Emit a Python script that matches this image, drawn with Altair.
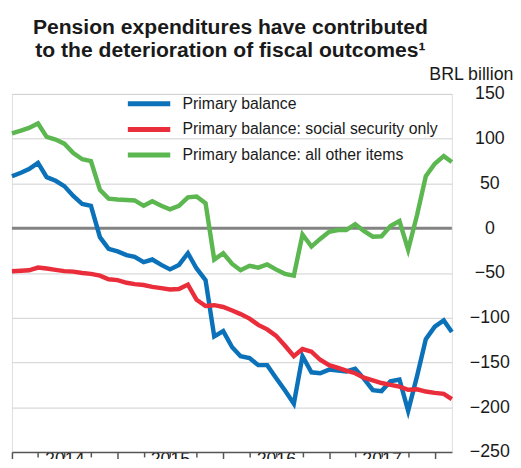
import altair as alt
import pandas as pd

months = pd.date_range("2014-01-01", "2018-03-01", freq="MS")

series_names = [
    "Primary balance",
    "Primary balance: social security only",
    "Primary balance: all other items",
]
series_colors = ["#0b72b9", "#ea2d3a", "#5cb751"]

primary_balance = [58, 62, 66, 73, 57, 53, 47, 36, 27, 25, -10, -23, -26, -30, -32, -38, -35,
                   -41, -46, -41, -28, -45, -58, -121, -115, -133, -143, -145, -153, -153, -167,
                   -181, -196, -143, -161, -162, -158, -159, -160, -157, -168, -181, -182, -171,
                   -169, -204, -165, -124, -110, -103, -116]
social_security = [-48, -47.5, -47, -44, -45, -46.5, -48, -48.5, -50, -51, -53, -57, -58, -61,
                   -62.5, -63.5, -65.5, -67, -68.5, -68, -63, -80, -87, -86, -88, -92, -96, -101,
                   -108, -113, -120, -131, -143, -135, -138, -147, -153, -156, -159, -162, -167,
                   -170, -173, -175, -177, -180.5, -180, -182.5, -184, -185, -191]
other_items = [106, 109, 112, 117, 102, 99, 94.5, 84, 77, 75, 43, 33, 32, 31.5, 31, 25, 30, 25,
               21, 25, 34.5, 35.5, 28, -35, -28, -40, -47, -42, -44, -40.5, -46, -51, -53, -7,
               -20.5, -12, -4, -2, -2, 4.5, -3, -9.5, -9, 2.5, 8, -24, 15, 58, 72, 80.5, 74]

y_ticks = [150, 100, 50, 0, -50, -100, -150, -200, -250]
title_lines = ["Pension expenditures have contributed", "to the deterioration of fiscal outcomes¹"]
y_unit = "BRL billion"

rows = []
for name, vals in zip(series_names, [primary_balance, social_security, other_items]):
    for d, v in zip(months, vals):
        rows.append({"date": d, "series": name, "value": v})
df = pd.DataFrame(rows)
zero_df = pd.DataFrame({"value": [0]})

FONT = "Liberation Sans"

quarter_ticks = [alt.DateTime(year=y, month=m, date=1)
                 for y in range(2014, 2019) for m in (1, 4, 7, 10)
                 if not (y == 2018 and m > 1)]

y_enc = alt.Y(
    "value:Q",
    scale=alt.Scale(domain=[-250, 150], nice=False, zero=False),
    axis=alt.Axis(
        orient="right", values=y_ticks, title=y_unit, titleAngle=0,
        titleAlign="right", titleBaseline="alphabetic", titleX=62, titleY=-15,
        titleFont=FONT, titleFontSize=18, titleFontWeight="normal", titleColor="#1a1a1a",
        labelFont=FONT, labelFontSize=18, labelColor="#1a1a1a", labelAlign="center",
        labelPadding=38, labelBaseline="middle", ticks=False, domain=False,
        grid=True, gridColor="#cfcfcf", gridWidth=1,
    ),
)

x_enc = alt.X(
    "date:T",
    scale=alt.Scale(domain=[alt.DateTime(year=2014, month=1, date=1),
                            alt.DateTime(year=2018, month=3, date=1)]),
    axis=alt.Axis(
        title=None, values=quarter_ticks,
        labelExpr="month(datum.value) == 6 ? timeFormat(datum.value, '%Y') : ''",
        labelFont=FONT, labelFontSize=18, labelColor="#1a1a1a", labelPadding=-6,
        labelFlush=False, labelOverlap=False,
        grid=False, domainColor="#555555", domainWidth=1.5,
        tickColor="#555555", tickWidth=1.5,
        tickSize={"condition": {"test": "month(datum.value) == 0", "value": 8}, "value": 5},
    ),
)

zero = alt.Chart(zero_df).mark_rule(color="#838383", strokeWidth=3).encode(y=y_enc)

lines = alt.Chart(df).mark_line(strokeWidth=4.5).encode(
    x=x_enc,
    y=y_enc,
    color=alt.Color(
        "series:N",
        scale=alt.Scale(domain=series_names, range=series_colors),
        legend=alt.Legend(
            orient="none", legendX=115, legendY=2, title=None,
            symbolType="stroke", symbolSize=1849, symbolStrokeWidth=5,
            clipHeight=16, rowPadding=10, labelOffset=10, labelLimit=0,
            labelFont=FONT, labelFontSize=16, labelColor="#1a1a1a",
        ),
    ),
)

chart = alt.layer(zero, lines).properties(
    width=446,
    height=363,
    autosize=alt.AutoSizeParams(type="none"),
    padding={"left": 4, "top": 84, "right": 62, "bottom": 4},
    title=alt.TitleParams(
        text=title_lines, font=FONT, fontSize=21.4, fontWeight="bold", color="#1a1a1a",
        anchor="middle", frame="group", lineHeight=23, offset=4, dx=-1.5,
    ),
).configure_view(stroke=None).configure(background="white")

chart.save("out.html", embed_options={"renderer": "svg", "actions": False})
